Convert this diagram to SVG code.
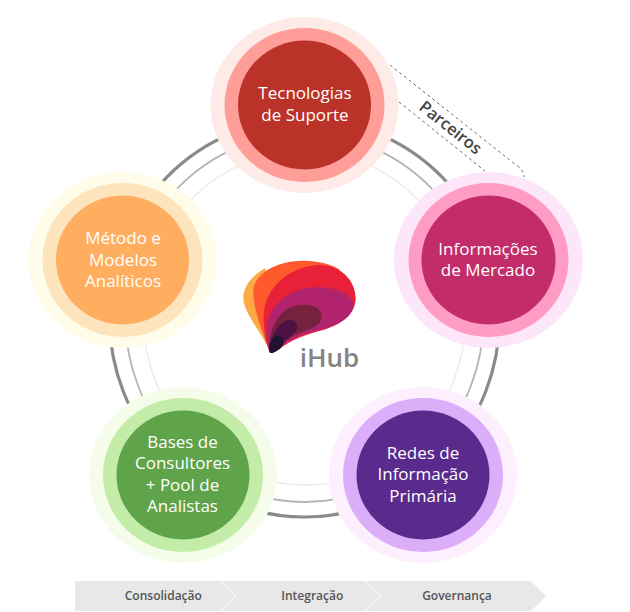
<svg xmlns="http://www.w3.org/2000/svg" width="630" height="612" viewBox="0 0 630 612">
<defs><style>
.n{font-family:"Open Sans","Noto Sans",sans-serif;font-size:17px;fill:#fff;text-anchor:middle}
.b{font-family:"Open Sans","Noto Sans",sans-serif;font-size:12px;font-weight:600;fill:#555;text-anchor:middle}
.r1{fill:none;stroke:#8a8a8a;stroke-width:3.2}
.r2{fill:none;stroke:#b4b4b4;stroke-width:1.8}
.r3{fill:none;stroke:#ececec;stroke-width:1.4}
.d{fill:none;stroke:#6e6e6e;stroke-width:1;stroke-dasharray:3 3}
</style></defs>
<rect width="630" height="612" fill="#fff"/>
<g id="connectors">
<ellipse class="r1" cx="304.5" cy="318" rx="195" ry="199"/>
<ellipse class="r2" cx="304.5" cy="318" rx="179" ry="184"/>
<ellipse class="r3" cx="304.5" cy="318" rx="161" ry="167"/>
<path class="d" d="M390 65L516 165Q524 170 524 177"/>
<path class="d" d="M399 102L485 171"/>
</g>
<g id="n1"><ellipse cx="304.5" cy="105" rx="94" ry="88" fill="#feeae7"/><ellipse cx="304.5" cy="105" rx="80" ry="77" fill="#ff9e98"/><ellipse cx="304.5" cy="105" rx="66.5" ry="64.5" fill="#bb3229"/>
<text class="n" x="305" y="99">Tecnologias</text><text class="n" x="305" y="121">de Suporte</text></g>
<g id="n2"><ellipse cx="488.5" cy="260" rx="94.5" ry="88" fill="#fee6fa"/><ellipse cx="488.5" cy="260" rx="80" ry="77" fill="#ff9cc4"/><ellipse cx="488.5" cy="260" rx="67" ry="64.5" fill="#c22c6b"/>
<text class="n" x="488" y="255">Informações</text><text class="n" x="488" y="276">de Mercado</text></g>
<g id="n3"><ellipse cx="423" cy="475" rx="94" ry="88" fill="#fdeffe"/><ellipse cx="423" cy="475" rx="80" ry="77" fill="#dcaefa"/><ellipse cx="423" cy="475" rx="66.5" ry="64.5" fill="#5a2a8c"/>
<text class="n" x="423" y="459">Redes de</text><text class="n" x="423" y="480">Informação</text><text class="n" x="423" y="502">Primária</text></g>
<g id="n4"><ellipse cx="183" cy="475" rx="94" ry="88" fill="#f5fdea"/><ellipse cx="183" cy="475" rx="80" ry="77" fill="#c3eca8"/><ellipse cx="183" cy="475" rx="66.5" ry="64.5" fill="#5fa34a"/>
<text class="n" x="182.5" y="448">Bases de</text><text class="n" x="182.5" y="469">Consultores</text><text class="n" x="182.5" y="491">+ Pool de</text><text class="n" x="182.5" y="512">Analistas</text></g>
<g id="n5"><ellipse cx="122.5" cy="260" rx="94" ry="88" fill="#fffde9"/><ellipse cx="122.5" cy="260" rx="80" ry="77" fill="#fee4bd"/><ellipse cx="122.5" cy="260" rx="66.5" ry="64.5" fill="#ffae60"/>
<text class="n" x="123" y="244">Método e</text><text class="n" x="123" y="266">Modelos</text><text class="n" x="123" y="287">Analíticos</text></g>
<g id="logo">
<g transform="translate(210 240) scale(.3333)">
<path d="M180 338C165 290 100 220 100 175C100 135 130 105 165 85L200 200Z" fill="#fbaa45"/>
<path d="M180 338C160 280 128 210 130 150C135 100 200 62 280 62C330 62 370 75 390 90L250 250Z" fill="#fe5a2d"/>
<path d="M180 338C165 300 158 250 162 215C170 135 250 75 330 75C390 75 437 120 437 175C437 225 390 255 340 270C290 282 240 300 205 330Z" fill="#e92138"/>
<path d="M180 338C170 310 166 280 172 250C185 185 250 142 320 142C385 142 430 165 430 195C430 230 385 258 320 272C270 282 235 300 205 328Q190 342 180 338Z" fill="#b1246d"/>
<path d="M180 338C172 300 185 250 220 215C245 190 335 180 335 230C335 262 285 270 255 285C230 298 215 315 200 330Q188 342 180 338Z" fill="#76223f"/>
<path d="M180 338C178 300 195 262 222 246C245 232 262 245 262 262C262 280 235 292 218 310C205 325 190 342 180 338Z" fill="#4d1144"/>
<path d="M180 338C172 320 182 295 200 288C216 283 224 298 220 312C214 326 190 342 180 338Z" fill="#1e1330"/>
</g>
<text x="329.5" y="367" style="font-family:'Open Sans','Noto Sans',sans-serif;font-size:26px;font-weight:600;fill:#848484;text-anchor:middle">iHub</text>
</g>
<g id="parceiros"><text transform="translate(447 132) rotate(38.5)" style="font-family:'Open Sans','Noto Sans',sans-serif;font-size:16.5px;font-weight:600;fill:#444;text-anchor:middle">Parceiros</text></g>
<g id="b1"><path d="M75 581H220L235 596L220 611H75Z" fill="#e8e8e8"/><text class="b" x="163.3" y="600">Consolidação</text></g>
<g id="b2"><path d="M221 581H365L380 596L365 611H221L236 596Z" fill="#e8e8e8"/><text class="b" x="312.3" y="600">Integração</text></g>
<g id="b3"><path d="M366 581H531L546 596L531 611H366L381 596Z" fill="#e8e8e8"/><text class="b" x="457" y="600">Governança</text></g>
</svg>
